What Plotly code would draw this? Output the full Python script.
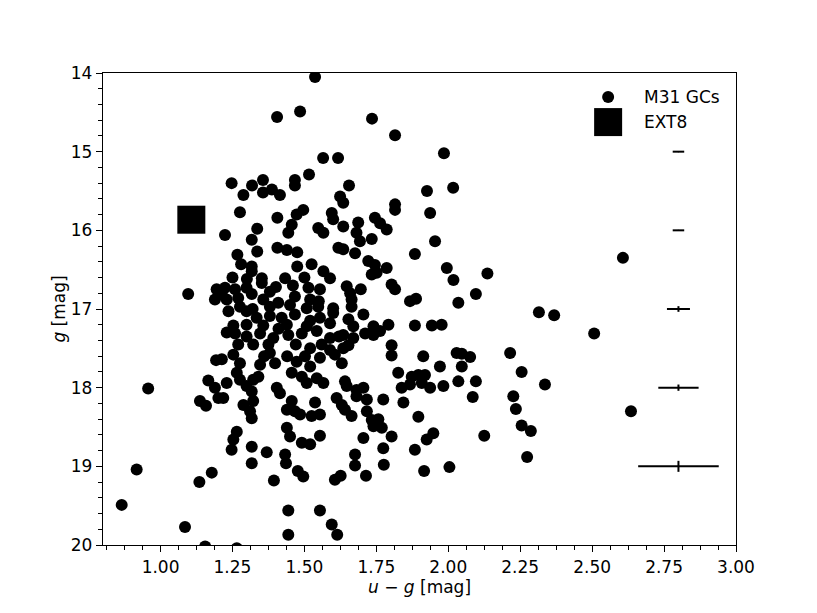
import plotly.graph_objects as go

# ---- data ----
gc_u_g = [
    1.537, 1.405, 1.485, 1.735, 1.815, 1.565, 1.617, 1.516, 1.467, 1.467, 1.655, 1.356, 1.318, 1.387,
    1.356, 1.415, 1.624, 1.247, 1.288, 1.985, 1.926, 2.017, 2.607,
    1.096, 1.195, 1.189,
    1.276, 1.496, 1.473, 1.406, 1.595, 1.600, 1.456, 1.444, 1.336, 1.317, 1.224, 1.548, 1.566, 1.406,
    1.439, 1.475, 1.336, 1.267, 1.618, 1.475, 1.525, 1.566, 1.317, 1.317, 1.352, 1.352, 1.433, 1.589,
    1.401, 1.380, 1.514, 1.554, 1.224, 1.259, 1.299, 1.317, 1.230, 1.270, 1.213, 1.467, 1.520, 1.357,
    1.380, 1.409, 1.508, 1.548, 1.600, 1.236, 1.276, 1.299, 1.334, 1.380, 1.421, 1.467, 1.554, 1.253,
    1.299, 1.357, 1.439, 1.508, 1.589,
    1.635, 1.815, 1.815, 1.937, 1.635, 1.687, 1.745, 1.763, 1.786, 1.681, 1.693, 1.734, 1.635, 1.676,
    1.954, 1.884, 1.722, 1.745, 1.734, 1.751, 1.786, 1.995, 2.018, 1.803, 1.815, 1.647, 1.659, 1.696,
    1.664, 1.664, 1.867, 1.888, 2.035, 1.705, 1.653, 1.792, 1.884, 1.943, 1.977, 1.740,
    1.259, 1.299, 1.346, 1.392, 1.444, 1.491, 1.543, 1.589, 1.322, 1.375, 1.380, 1.253, 1.276, 1.346,
    1.398, 1.554, 1.589, 1.606, 1.473, 1.502, 1.520, 1.456, 1.491, 1.508, 1.213, 1.230, 1.265, 1.276,
    1.299, 1.322, 1.340, 1.317, 1.218, 1.404, 1.415, 1.543, 1.566, 1.612, 1.288, 1.311, 1.317, 1.322,
    1.456, 1.439, 1.467, 1.485, 1.537, 1.525, 1.554, 1.439, 1.450, 1.265, 1.253, 1.554, 1.491, 1.520,
    1.247, 1.317, 1.369, 1.433,
    1.635, 1.670, 1.711, 1.740, 1.763, 1.635, 1.653, 1.630, 1.803, 1.803, 1.913, 1.971, 2.029, 1.826,
    1.873, 1.896, 1.919, 1.867, 1.908, 1.937, 1.838, 1.983, 2.035, 1.641, 1.647, 1.681, 1.705, 1.681,
    1.717, 1.774, 1.844, 1.630, 1.641, 1.664, 1.717, 1.734, 1.757, 1.740, 1.769, 1.896, 1.948, 1.925,
    1.803, 1.705, 1.774, 1.884, 1.676,
    1.193, 1.166, 1.189, 1.201, 1.137, 1.158, 0.957,
    0.917, 1.135, 1.178, 1.317, 1.394, 1.436, 1.477, 1.496, 1.606, 1.626, 1.676, 1.714, 1.776, 1.916,
    2.004, 0.865, 1.085, 1.444, 1.444, 1.554, 1.595, 1.614, 1.155, 1.265,
    2.136, 2.096, 2.315, 2.368, 2.507, 2.047, 2.076, 2.047, 2.215, 2.255, 2.336, 2.096, 2.085, 2.226,
    2.235, 2.255, 2.287, 2.125, 2.635, 2.274,
    # extra points hidden in the dense core
    1.320, 1.450, 1.410, 1.470, 1.520, 1.360, 1.440, 1.270, 1.230, 1.560, 1.620, 1.520, 1.600, 1.670,
    1.300, 1.250, 1.460, 1.500, 1.550, 1.280,
]
gc_g = [
    14.05, 14.56, 14.49, 14.58, 14.79, 15.08, 15.08, 15.29, 15.36, 15.43, 15.43, 15.36, 15.43, 15.48,
    15.52, 15.55, 15.57, 15.40, 15.55, 15.02, 15.50, 15.46, 16.35,
    16.81, 16.75, 16.88,
    15.77, 15.74, 15.80, 15.84, 15.78, 15.86, 15.93, 16.03, 15.98, 16.12, 16.06, 15.97, 16.03, 16.22,
    16.25, 16.28, 16.27, 16.31, 16.22, 16.46, 16.43, 16.52, 16.46, 16.52, 16.61, 16.67, 16.61, 16.61,
    16.72, 16.78, 16.73, 16.75, 16.73, 16.75, 16.73, 16.81, 16.88, 16.86, 16.82, 16.84, 16.88, 16.88,
    16.97, 16.92, 16.99, 16.97, 16.99, 17.03, 16.97, 17.03, 17.11, 17.09, 17.11, 17.07, 17.11, 17.21,
    17.20, 17.21, 17.20, 17.22, 17.18,
    15.65, 15.67, 15.74, 15.78, 15.95, 15.90, 15.84, 15.91, 15.99, 16.03, 16.14, 16.11, 16.24, 16.29,
    16.14, 16.30, 16.39, 16.44, 16.56, 16.54, 16.48, 16.48, 16.63, 16.69, 16.75, 16.71, 16.80, 16.75,
    16.88, 16.97, 16.90, 16.87, 16.92, 17.07, 17.13, 17.20, 17.21, 17.21, 17.20, 17.22,
    17.31, 17.35, 17.31, 17.37, 17.33, 17.31, 17.28, 17.37, 17.45, 17.45, 17.56, 17.58, 17.69, 17.71,
    17.69, 17.62, 17.52, 17.58, 17.67, 17.60, 17.73, 17.81, 17.86, 17.94, 17.64, 17.94, 17.81, 17.90,
    17.98, 17.90, 17.86, 18.05, 18.13, 18.00, 18.07, 17.88, 17.94, 18.13, 18.22, 18.30, 18.39, 18.17,
    18.17, 18.28, 18.30, 18.34, 18.19, 18.36, 18.34, 18.51, 18.62, 18.56, 18.66, 18.61, 18.70, 18.72,
    18.79, 18.75, 18.82, 18.85,
    17.33, 17.37, 17.31, 17.33, 17.28, 17.50, 17.46, 17.69, 17.46, 17.59, 17.60, 17.73, 17.56, 17.81,
    17.86, 17.84, 17.84, 17.96, 17.94, 18.00, 18.00, 17.98, 17.92, 17.92, 17.98, 18.03, 18.00, 18.11,
    18.15, 18.15, 18.19, 18.22, 18.28, 18.36, 18.30, 18.41, 18.40, 18.49, 18.51, 18.37, 18.58, 18.66,
    18.62, 18.64, 18.77, 18.79, 18.85,
    17.65, 17.91, 18.00, 18.13, 18.17, 18.23, 18.01,
    19.04, 19.20, 19.08, 18.96, 19.18, 18.96, 19.06, 19.13, 19.17, 19.12, 18.99, 19.12, 18.98, 19.06,
    19.01, 19.49, 19.77, 19.56, 19.87, 19.56, 19.74, 19.87, 20.02, 20.04,
    16.55, 16.81, 17.04, 17.08, 17.31, 17.57, 17.61, 17.73, 17.56, 17.80, 17.96, 17.92, 18.12, 18.11,
    18.27, 18.48, 18.55, 18.61, 18.30, 18.88,
    17.00, 16.95, 17.25, 17.45, 17.50, 17.60, 17.60, 17.45, 17.30, 17.45, 17.35, 17.15, 17.05, 17.22,
    16.62, 16.60, 16.70, 16.60, 16.90, 16.43,
]

ext8_u_g = [1.107]
ext8_g = [15.865]

# typical uncertainties vs magnitude
err_u_g_pos = [2.80, 2.80, 2.80, 2.80, 2.80]
err_g_levels = [15, 16, 17, 18, 19]
err_u_g = [0.020, 0.020, 0.040, 0.070, 0.140]
err_g = [0.005, 0.005, 0.036, 0.040, 0.070]

legend_labels = ["M31 GCs", "EXT8"]

x_ticks = [1.00, 1.25, 1.50, 1.75, 2.00, 2.25, 2.50, 2.75, 3.00]
y_ticks = [14, 15, 16, 17, 18, 19, 20]

FONT = "DejaVu Sans"

fig = go.Figure()

fig.add_trace(go.Scatter(
    x=gc_u_g, y=gc_g, mode="markers", name=legend_labels[0],
    marker=dict(symbol="circle", size=12, color="black", opacity=1, line=dict(width=0)),
    showlegend=False,
))
fig.add_trace(go.Scatter(
    x=ext8_u_g, y=ext8_g, mode="markers", name=legend_labels[1],
    marker=dict(symbol="square", size=28, color="black", opacity=1, line=dict(width=0)),
    showlegend=False,
))
fig.add_trace(go.Scatter(
    x=err_u_g_pos, y=err_g_levels, mode="markers",
    marker=dict(size=1, color="black"),
    error_x=dict(type="data", array=err_u_g, color="black", thickness=2, width=0),
    error_y=dict(type="data", array=err_g, color="black", thickness=2, width=0),
    showlegend=False,
))

# legend drawn on an invisible overlay axis (0..1 coordinates of the plot area)
leg_x = 0.798
leg_y = [0.949, 0.896]
leg_symbols = ["circle", "square"]
leg_sizes = [12, 28]
for ly, sym, sz, lab in zip(leg_y, leg_symbols, leg_sizes, legend_labels):
    fig.add_trace(go.Scatter(
        x=[leg_x], y=[ly], mode="markers", xaxis="x2", yaxis="y2",
        marker=dict(symbol=sym, size=sz, color="black", opacity=1, line=dict(width=0)),
        showlegend=False, hoverinfo="skip", cliponaxis=False,
    ))
    fig.add_annotation(x=0.851, y=ly, xref="x2", yref="y2", text=lab, showarrow=False,
                       xanchor="left", yanchor="middle", font=dict(family=FONT, size=17, color="black"))

axis_common = dict(
    showgrid=False, zeroline=False, showline=True, mirror=True,
    linecolor="black", linewidth=1.4,
    ticks="outside", ticklen=6, tickwidth=1.4, tickcolor="black",
    tickfont=dict(family=FONT, size=17, color="black"),
)

fig.update_layout(
    template="none",
    width=809, height=605,
    margin=dict(l=95, r=81, t=65, b=68, pad=0),
    paper_bgcolor="white", plot_bgcolor="white",
    font=dict(family=FONT, size=17, color="black"),
    xaxis=dict(
        range=[0.8, 3.0], tickvals=x_ticks, ticktext=[f"{v:.2f}" for v in x_ticks],
        minor=dict(dtick=0.0625, tick0=1.0, ticks="outside", ticklen=3.5, tickwidth=1, tickcolor="black",
                   showgrid=False),
        title=dict(text="<i>u</i> − <i>g</i> [mag]", font=dict(family=FONT, size=17, color="black"), standoff=4),
        **axis_common,
    ),
    yaxis=dict(
        range=[20, 14], tickvals=y_ticks, ticktext=[str(v) for v in y_ticks],
        minor=dict(dtick=0.2, tick0=14, ticks="outside", ticklen=3.5, tickwidth=1, tickcolor="black",
                   showgrid=False),
        title=dict(text="<i>g</i> [mag]", font=dict(family=FONT, size=17, color="black"), standoff=0),
        **axis_common,
    ),
    xaxis2=dict(overlaying="x", range=[0, 1], visible=False, fixedrange=True),
    yaxis2=dict(overlaying="y", range=[0, 1], visible=False, fixedrange=True),
    showlegend=False,
)

fig.write_html("out.html")
